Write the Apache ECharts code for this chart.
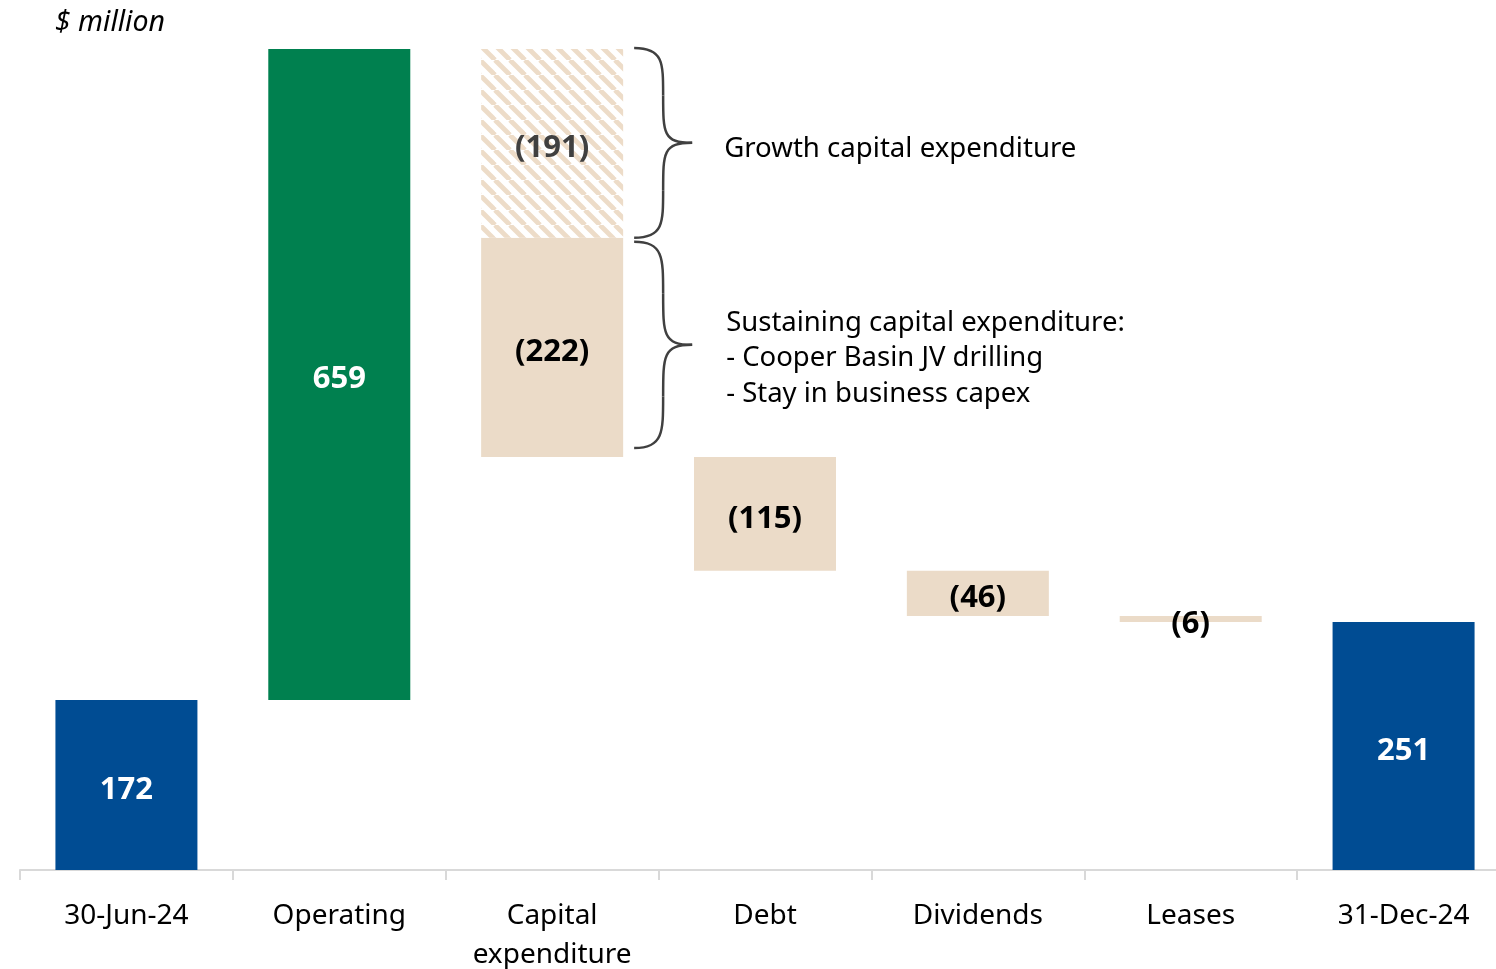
<!DOCTYPE html>
<html>
<head>
<meta charset="utf-8">
<script src="https://cdn.jsdelivr.net/npm/echarts@6/dist/echarts.min.js"></script>
<style>
    html, body {margin: 0; padding: 0; background: #fff;}
    #main {width: 1496px; height: 969px;}
</style>
</head>
<body>
<div id="main"></div>
<script>
// categories and flows ($ million)
const categories = ['30-Jun-24', 'Operating', 'Capital\nexpenditure', 'Debt', 'Dividends', 'Leases', '31-Dec-24'];
const flows = [172, 659, -222, -115, -46, -6, 251];   // capex here = sustaining part
const growthCapex = [null, null, -191, null, null, null, null];
const barColors = ['#004C93', '#00804F', '#EBDBC8', '#EBDBC8', '#EBDBC8', '#EBDBC8', '#004C93'];
const labelColors = ['#fff', '#fff', '#000', '#000', '#000', '#000', '#fff'];

const FONT = 'Noto Sans';

// hatch pattern for growth capex
function makeHatch() {
    const s = 15;
    const c = document.createElement('canvas');
    c.width = s; c.height = s;
    const ctx = c.getContext('2d');
    ctx.fillStyle = '#fff';
    ctx.fillRect(0, 0, s, s);
    ctx.strokeStyle = '#EDDCC8';
    ctx.lineWidth = 4.8;
    [-s, 0, s].forEach(function (o) {
        ctx.beginPath();
        ctx.moveTo(o, 0);
        ctx.lineTo(o + s, s);
        ctx.stroke();
    });
    return c;
}

// build waterfall bases
let running = 0;
const base = [], visible = [], growth = [];
flows.forEach(function (v, i) {
    const last = i === flows.length - 1;
    if (i === 0 || last) {
        base.push(0);
        visible.push({value: v, itemStyle: {color: barColors[i]}, label: {color: labelColors[i]}});
        running = v;
    } else if (v >= 0) {
        base.push(running);
        visible.push({value: v, itemStyle: {color: barColors[i]}, label: {color: labelColors[i]}});
        running += v;
    } else {
        const g = growthCapex[i] ? -growthCapex[i] : 0;
        base.push(running - g + v);
        visible.push({value: -v, raw: v, itemStyle: {color: barColors[i]}, label: {color: labelColors[i]}});
        running = running - g + v;
    }
    growth.push(growthCapex[i] ? {value: -growthCapex[i], raw: growthCapex[i]} : '-');
});

function fmt(p) {
    const raw = p.data.raw !== undefined ? p.data.raw : p.value;
    return raw < 0 ? '(' + Math.abs(raw) + ')' : String(raw);
}

const myChart = echarts.init(document.getElementById('main'));
const option = {
    animation: false,
    textStyle: {fontFamily: FONT},
    grid: {left: 20, top: 49, bottom: 99, width: 1490, outerBoundsMode: 'none', containLabel: false},
    xAxis: {
        type: 'category',
        data: categories,
        axisLine: {lineStyle: {color: '#D9D9D9', width: 2}},
        axisTick: {show: true, length: 10, lineStyle: {color: '#D9D9D9', width: 2}},
        axisLabel: {color: '#000', fontSize: 28, fontFamily: FONT, margin: 27, lineHeight: 39, interval: 0}
    },
    yAxis: {type: 'value', min: 0, max: 831, show: false},
    series: [
        {
            type: 'bar', stack: 'w', barWidth: 142, silent: true,
            itemStyle: {color: 'transparent'},
            data: base
        },
        {
            type: 'bar', stack: 'w', barWidth: 142,
            label: {show: true, position: 'inside', offset: [0, 5], fontSize: 31, fontWeight: 'bold', fontFamily: FONT, formatter: fmt},
            data: visible
        },
        {
            type: 'bar', stack: 'w', barWidth: 142,
            itemStyle: {color: {image: makeHatch(), repeat: 'repeat'}},
            label: {show: true, position: 'inside', offset: [0, 5], fontSize: 31, fontWeight: 'bold', fontFamily: FONT, color: '#404040', formatter: fmt},
            data: growth
        }
    ]
};
myChart.setOption(option);

// braces for capex split, built from bezier pieces
function brace(x0, y0, y1, xt) {
    const xm = (x0 + xt) / 2;
    const ym = (y0 + y1) / 2;
    const r = (ym - y0) * 0.5;
    const st = {fill: null, stroke: '#404040', lineWidth: 2.5};
    return [
        {type: 'bezierCurve', shape: {x1: x0, y1: y0, cpx1: xm, cpy1: y0, cpx2: xm, cpy2: y0 + r * 0.3, x2: xm, y2: y0 + r}, style: st},
        {type: 'line', shape: {x1: xm, y1: y0 + r, x2: xm, y2: ym - r}, style: st},
        {type: 'bezierCurve', shape: {x1: xm, y1: ym - r, cpx1: xm, cpy1: ym - r * 0.2, cpx2: xm, cpy2: ym, x2: xt, y2: ym}, style: st},
        {type: 'bezierCurve', shape: {x1: xt, y1: ym, cpx1: xm, cpy1: ym, cpx2: xm, cpy2: ym + r * 0.2, x2: xm, y2: ym + r}, style: st},
        {type: 'line', shape: {x1: xm, y1: ym + r, x2: xm, y2: y1 - r}, style: st},
        {type: 'bezierCurve', shape: {x1: xm, y1: y1 - r, cpx1: xm, cpy1: y1 - r * 0.3, cpx2: xm, cpy2: y1, x2: x0, y2: y1}, style: st}
    ];
}
const ci = 2;
const cx = myChart.convertToPixel({xAxisIndex: 0}, ci);
const bx = cx + 71 + 11;
const tip = bx + 58;
const topG = myChart.convertToPixel({yAxisIndex: 0}, base[ci] + visible[ci].value + growth[ci].value);
const midG = myChart.convertToPixel({yAxisIndex: 0}, base[ci] + visible[ci].value);
const botS = myChart.convertToPixel({yAxisIndex: 0}, base[ci]);

myChart.setOption({
    graphic: [].concat(
        brace(bx, topG - 1, midG, tip),
        brace(bx, midG + 4, botS - 9, tip),
        [
            {type: 'text', x: tip + 32, y: (topG + midG) / 2 + 6, style: {text: 'Growth capital expenditure', font: '27.6px "' + FONT + '"', fill: '#000', verticalAlign: 'middle'}},
            {type: 'text', x: tip + 34, y: (midG + botS) / 2 + 11, style: {text: 'Sustaining capital expenditure:\n- Cooper Basin JV drilling\n- Stay in business capex', font: '27.5px "' + FONT + '"', lineHeight: 35.5, fill: '#000', verticalAlign: 'middle'}},
            {type: 'text', x: 55, y: 23, style: {text: '$ million', font: 'italic 28.5px "' + FONT + '"', fill: '#000', verticalAlign: 'middle'}}
        ]
    )
});
</script>
</body>
</html>
